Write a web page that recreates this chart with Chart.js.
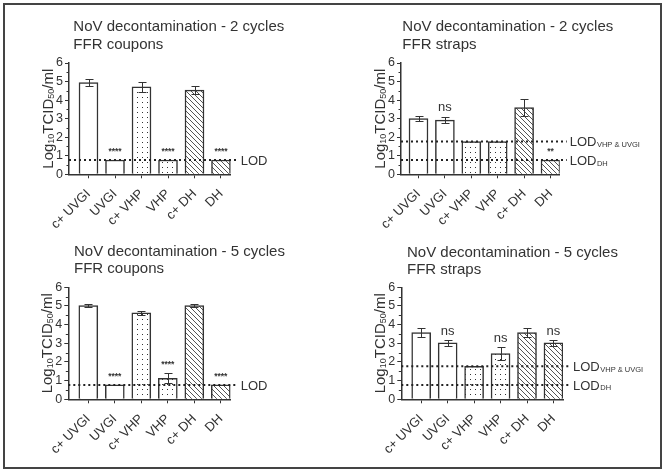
<!DOCTYPE html>
<html><head><meta charset="utf-8">
<script src="https://cdn.jsdelivr.net/npm/chart.js@4.4.1/dist/chart.umd.min.js"></script>
<style>
html,body{margin:0;padding:0;background:#fff;width:666px;height:474px;overflow:hidden;}
#frame{position:absolute;left:3px;top:3px;width:655px;height:462px;border:2px solid #444;}
canvas{position:absolute;}
</style></head><body>
<div id="frame"></div>
<canvas id="c1" width="333" height="237" style="left:0;top:0"></canvas>
<canvas id="c2" width="333" height="237" style="left:333px;top:0"></canvas>
<canvas id="c3" width="333" height="237" style="left:0;top:237px"></canvas>
<canvas id="c4" width="333" height="237" style="left:333px;top:237px"></canvas>
<script>
// ---------- data ----------
const categories = ['c+ UVGI', 'UVGI', 'c+ VHP', 'VHP', 'c+ DH', 'DH'];
const yTickValues = [0, 1, 2, 3, 4, 5, 6];

const coupons2Mean = [4.94, 0.77, 4.72, 0.77, 4.54, 0.77];
const coupons2Sem  = [0.20, 0,    0.28, 0,    0.20, 0];
const coupons2Sig  = ['', '****', '', '****', '', '****'];

const straps2Mean = [3.00, 2.92, 1.77, 1.77, 3.60, 0.77];
const straps2Sem  = [0.15, 0.18, 0,    0,    0.46, 0];
const straps2Sig  = ['', 'ns', '', '', '', '**'];

const coupons5Mean = [5.02, 0.77, 4.63, 1.12, 5.02, 0.77];
const coupons5Sem  = [0.10, 0,    0.11, 0.27, 0.09, 0];
const coupons5Sig  = ['', '****', '', '****', '', '****'];

const straps5Mean = [3.58, 3.02, 1.77, 2.45, 3.58, 3.02];
const straps5Sem  = [0.22, 0.15, 0,    0.33, 0.22, 0.15];
const straps5Sig  = ['', 'ns', '', 'ns', '', 'ns'];

const couponLodValues = [0.77];
const couponLodSubs   = [''];
const strapLodValues  = [1.77, 0.77];
const strapLodSubs    = ['VHP & UVGI', 'DH'];

const titles2Coupons = ['NoV decontamination - 2 cycles', 'FFR coupons'];
const titles2Straps  = ['NoV decontamination - 2 cycles', 'FFR straps'];
const titles5Coupons = ['NoV decontamination - 5 cycles', 'FFR coupons'];
const titles5Straps  = ['NoV decontamination - 5 cycles', 'FFR straps'];

// ---------- styling / layout ----------
const FONT = '"Liberation Sans", Arial, sans-serif';
const INK = '#333';
Chart.defaults.font.family = FONT;
Chart.defaults.color = INK;

function dotPattern(ctx) {
  const t = document.createElement('canvas'); t.width = 5; t.height = 5;
  const x = t.getContext('2d');
  x.fillStyle = '#fff'; x.fillRect(0, 0, 5, 5);
  x.fillStyle = '#333'; x.fillRect(2, 2, 1, 1);
  return ctx.createPattern(t, 'repeat');
}
function hatchPattern(ctx) {
  const s = 5;
  const t = document.createElement('canvas'); t.width = s; t.height = s;
  const x = t.getContext('2d');
  x.fillStyle = '#fff'; x.fillRect(0, 0, s, s);
  x.strokeStyle = '#555'; x.lineWidth = 1;
  for (const x0 of [-s, 0, s]) { x.beginPath(); x.moveTo(x0, 0); x.lineTo(x0 + s, s); x.stroke(); }
  return ctx.createPattern(t, 'repeat');
}

const decoPlugin = {
  id: 'deco',
  afterDatasetsDraw(chart) {
    const o = chart.options.plugins.deco;
    const ctx = chart.ctx;
    const {left, right} = chart.chartArea;
    const ys = chart.scales.y;
    const meta = chart.getDatasetMeta(0);
    ctx.save();
    // error bars
    ctx.strokeStyle = INK; ctx.lineWidth = 1;
    meta.data.forEach((bar, i) => {
      const e = o.sem[i]; if (!e) return;
      const m = o.mean[i];
      const yt = Math.round(ys.getPixelForValue(m + e)) + 0.5;
      const yb = Math.round(ys.getPixelForValue(m - e)) + 0.5;
      const bx = Math.round(bar.x) + 0.5;
      ctx.beginPath();
      ctx.moveTo(bx, yt); ctx.lineTo(bx, yb);
      ctx.moveTo(bx - 4, yt); ctx.lineTo(bx + 4, yt);
      ctx.moveTo(bx - 4, yb); ctx.lineTo(bx + 4, yb);
      ctx.stroke();
    });
    // significance labels
    ctx.fillStyle = INK; ctx.textAlign = 'center'; ctx.textBaseline = 'alphabetic';
    meta.data.forEach((bar, i) => {
      const s = o.sig[i]; if (!s) return;
      const topPx = ys.getPixelForValue(o.mean[i] + (o.sem[i] || 0));
      if (s.startsWith('*')) { ctx.font = 'bold 8.5px ' + FONT; ctx.fillText(s, bar.x, topPx - 6); }
      else { ctx.font = '13px ' + FONT; ctx.fillText(s, bar.x, topPx - 5.5); }
    });
    // LOD dotted lines
    o.lods.forEach((v, k) => {
      const y = ys.getPixelForValue(v);
      ctx.strokeStyle = '#222'; ctx.lineWidth = 2; ctx.setLineDash([2, 3]);
      ctx.beginPath(); ctx.moveTo(left, y); ctx.lineTo(right + 7, y); ctx.stroke();
      ctx.setLineDash([]);
      ctx.textAlign = 'left';
      ctx.font = '13px ' + FONT; ctx.fillStyle = INK;
      ctx.fillText('LOD', right + 10, y + 5);
      const w = ctx.measureText('LOD').width;
      if (o.lodSubs[k]) { ctx.font = '7.5px ' + FONT; ctx.fillText(o.lodSubs[k], right + 10 + w + 0.5, y + 5.5); }
    });
    ctx.restore();
  },
  afterDraw(chart) {
    const o = chart.options.plugins.deco;
    const ctx = chart.ctx;
    const {left, top, bottom} = chart.chartArea;
    const ys = chart.scales.y;
    ctx.save();
    // minor y ticks
    ctx.strokeStyle = INK; ctx.lineWidth = 1;
    for (let v = 0.5; v < 6; v += 1) {
      const y = Math.round(ys.getPixelForValue(v)) + 0.5;
      ctx.beginPath(); ctx.moveTo(left - 2.5, y); ctx.lineTo(left, y); ctx.stroke();
    }
    // titles
    ctx.fillStyle = INK; ctx.textAlign = 'left'; ctx.textBaseline = 'middle';
    ctx.font = '15px ' + FONT;
    o.title.forEach((t, k) => ctx.fillText(t, o.titleX, o.titleY[k]));
    // y axis title with subscripts
    const segs = [['Log', 15, 0], ['10', 9, 1], ['TCID', 15, 0], ['50', 9, 1], ['/ml', 15, 0]];
    let total = 0;
    segs.forEach(s => { ctx.font = s[1] + 'px ' + FONT; s.push(ctx.measureText(s[0]).width); total += s[3]; });
    ctx.translate(left - 16.5, (top + bottom) / 2);
    ctx.rotate(-Math.PI / 2);
    ctx.textBaseline = 'alphabetic';
    let x = -total / 2;
    segs.forEach(s => { ctx.font = s[1] + 'px ' + FONT; ctx.fillText(s[0], x, s[2]); x += s[3]; });
    ctx.restore();
  }
};

function buildChart(id, g, mean, sem, sig, lods, lodSubs, title) {
  const canvas = document.getElementById(id);
  const ctx = canvas.getContext('2d');
  const dots = dotPattern(ctx), hatch = hatchPattern(ctx);
  const fills = categories.map(c => c.includes('VHP') ? dots : (c.includes('DH') ? hatch : '#ffffff'));
  const xmin = -(g.first - g.axisX) / g.spacing;
  const xmax = xmin + (g.axisEnd - g.axisX) / g.spacing;
  return new Chart(ctx, {
    type: 'bar',
    data: {
      datasets: [{
        data: mean.map((v, i) => ({x: i, y: v})),
        backgroundColor: fills,
        borderColor: INK,
        borderWidth: 1.5,
        barThickness: 19
      }]
    },
    options: {
      responsive: false,
      animation: false,
      events: [],
      layout: {padding: {top: g.top, left: 0, bottom: 0, right: 333 - g.axisEnd}},
      plugins: {
        legend: {display: false}, tooltip: {enabled: false}, title: {display: false},
        deco: {mean, sem, sig, lods, lodSubs, title, titleX: g.titleX, titleY: g.titleY}
      },
      scales: {
        x: {
          type: 'linear', min: xmin, max: xmax, offset: false,
          afterBuildTicks: s => { s.ticks = categories.map((_, i) => ({value: i})); },
          afterFit: s => { s.height = 237 - g.bottom; },
          ticks: {autoSkip: false, minRotation: 45, maxRotation: 45, padding: 8,
                  font: {size: 13}, color: INK, callback: v => categories[v]},
          grid: {drawOnChartArea: false, offset: false, tickLength: 4, color: INK},
          border: {color: INK, width: 1.5}
        },
        y: {
          min: 0, max: 6,
          afterBuildTicks: s => { s.ticks = yTickValues.map(v => ({value: v})); },
          afterFit: s => { s.width = g.axisX; },
          ticks: {font: {size: 12.5}, color: INK, padding: 2},
          grid: {drawOnChartArea: false, tickLength: 4, color: INK},
          border: {color: INK, width: 1.5}
        }
      }
    },
    plugins: [decoPlugin]
  });
}

buildChart('c1', {axisX: 69, first: 88.5, spacing: 26.5, axisEnd: 230.7, top: 63, bottom: 174.3, titleX: 73.3, titleY: [27, 44.8]},
  coupons2Mean, coupons2Sem, coupons2Sig, couponLodValues, couponLodSubs, titles2Coupons);
buildChart('c2', {axisX: 68, first: 85.5, spacing: 26.4, axisEnd: 226.7, top: 63, bottom: 174.3, titleX: 69.3, titleY: [26.7, 45]},
  straps2Mean, straps2Sem, straps2Sig, strapLodValues, strapLodSubs, titles2Straps);
buildChart('c3', {axisX: 68.3, first: 88.3, spacing: 26.5, axisEnd: 230.7, top: 50.3, bottom: 162.3, titleX: 74, titleY: [15.3, 32]},
  coupons5Mean, coupons5Sem, coupons5Sig, couponLodValues, couponLodSubs, titles5Coupons);
buildChart('c4', {axisX: 68.3, first: 88.2, spacing: 26.45, axisEnd: 230, top: 50.3, bottom: 162.3, titleX: 74, titleY: [15.8, 33]},
  straps5Mean, straps5Sem, straps5Sig, strapLodValues, strapLodSubs, titles5Straps);
</script>
</body></html>
